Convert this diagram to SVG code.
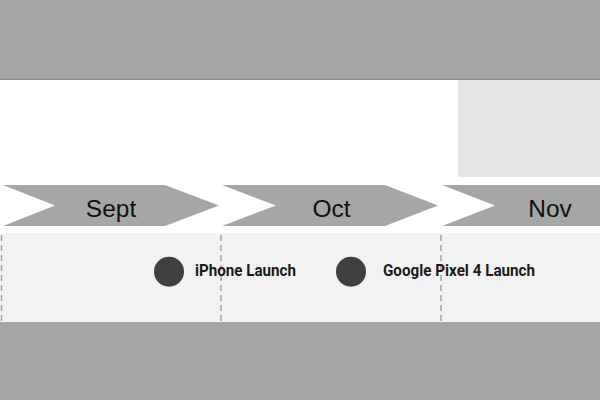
<svg xmlns="http://www.w3.org/2000/svg" width="600" height="400" viewBox="0 0 600 400">
<style>
.band{fill:#a6a6a6}
.chev{fill:#a6a6a6}
.month{font-family:"Liberation Sans",Arial,sans-serif;font-size:24.5px;fill:#111;text-anchor:middle}
.div{stroke:#a3a3a3;stroke-width:1.5;stroke-dasharray:6 4;fill:none}
.dot{fill:#404040}
.lbl{font-family:Roboto,"Liberation Sans",sans-serif;font-weight:700;font-size:16px;fill:#1a1a1a}
</style>
<rect x="0" y="0" width="600" height="400" fill="#ffffff"/>
<rect class="band" x="0" y="0" width="600" height="79"/>
<rect x="0" y="78.5" width="600" height="1.5" fill="#8c8c8c"/>
<rect x="458" y="80" width="142" height="97" fill="#e6e6e6"/>
<rect x="0" y="233" width="600" height="89" fill="#f2f2f2"/>
<rect class="band" x="0" y="322" width="600" height="78"/>
<g id="sept">
<polygon class="chev" points="3,185 165,185 219,205.5 165,226 3,226 55,205.5"/>
<text class="month" x="111" y="217">Sept</text>
</g>
<g id="oct">
<polygon class="chev" points="222,185 385,185 438,205.5 385,226 222,226 276,205.5"/>
<text class="month" x="331.5" y="217">Oct</text>
</g>
<g id="nov">
<polygon class="chev" points="442,185 600,185 600,226 442,226 495,205.5"/>
<text class="month" x="550" y="217">Nov</text>
</g>
<g id="dividers">
<line class="div" x1="1.5" y1="235" x2="1.5" y2="321"/>
<line class="div" x1="221" y1="235" x2="221" y2="321"/>
<line class="div" x1="441" y1="235" x2="441" y2="321"/>
</g>
<g id="iphone">
<circle class="dot" cx="169" cy="271.7" r="15"/>
<text class="lbl" x="195" y="276" textLength="101" lengthAdjust="spacingAndGlyphs">iPhone Launch</text>
</g>
<g id="pixel">
<circle class="dot" cx="351" cy="271.7" r="15"/>
<text class="lbl" x="383" y="276" textLength="152" lengthAdjust="spacingAndGlyphs">Google Pixel 4 Launch</text>
</g>
</svg>
